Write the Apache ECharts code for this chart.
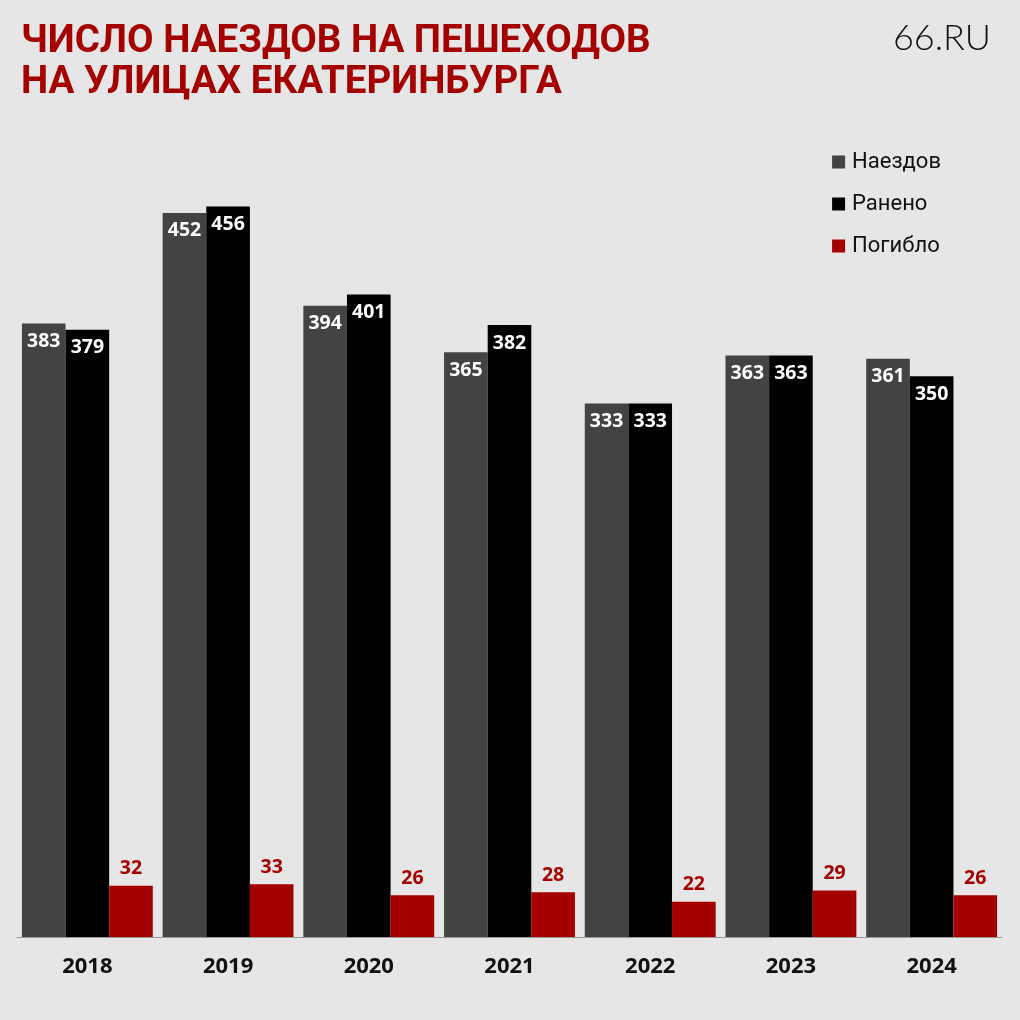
<!DOCTYPE html>
<html><head><meta charset="utf-8">
<style>html,body{margin:0;padding:0;background:#e6e6e6;}#c{width:1020px;height:1020px;}</style>
<script src="https://cdn.jsdelivr.net/npm/echarts@6/dist/echarts.min.js"></script>
</head><body><div id="c"></div>
<script>
const years = ['2018','2019','2020','2021','2022','2023','2024'];
const naezdov = [383, 452, 394, 365, 333, 363, 361];
const raneno = [379, 456, 401, 382, 333, 363, 350];
const pogiblo = [32, 33, 26, 28, 22, 29, 26];
const seriesNames = ['Наездов', 'Ранено', 'Погибло'];
const titleText = 'ЧИСЛО НАЕЗДОВ НА ПЕШЕХОДОВ\nНА УЛИЦАХ ЕКАТЕРИНБУРГА';

const chart = echarts.init(document.getElementById('c'));
const inLabel = {show:true, position:'insideTop', distance:8, color:'#fff', fontFamily:'Open Sans', fontWeight:'bold', fontSize:19.5};
chart.setOption({
  backgroundColor:'#e6e6e6',
  animation:false,
  title:[{text:titleText, left:16, top:17, textStyle:{color:'#a50000', fontFamily:'Roboto', fontWeight:'bold', fontSize:38.5, lineHeight:41}},
         {text:'66.RU', right:24, top:15, textStyle:{color:'#111', fontFamily:'Lato', fontWeight:300, fontSize:36}}],
  legend:{right:74, top:146, orient:'vertical', itemGap:20, itemWidth:13, itemHeight:13, icon:'rect',
    textStyle:{fontFamily:'Roboto', fontSize:22, color:'#111', padding:[0,0,0,2]}},
  grid:{left:17, right:18, top:136, bottom:83},
  xAxis:{type:'category', data:years, axisLine:{lineStyle:{color:'#999'}}, axisTick:{length:7, lineStyle:{color:'#999'}},
    axisLabel:{color:'#111', fontFamily:'Open Sans', fontWeight:'bold', fontSize:22, margin:19}},
  yAxis:{type:'value', min:0, max:500, show:false, splitLine:{show:false}},
  series:[
    {name:seriesNames[0], type:'bar', data:naezdov, itemStyle:{color:'#434343'}, barGap:'0%', barCategoryGap:'7%', label:inLabel},
    {name:seriesNames[1], type:'bar', data:raneno, itemStyle:{color:'#000'}, label:inLabel},
    {name:seriesNames[2], type:'bar', data:pogiblo, itemStyle:{color:'#a50000'},
      label:{show:true, position:'top', distance:7, color:'#a50000', fontFamily:'Open Sans', fontWeight:'bold', fontSize:19.5}}
  ]
});
</script></body></html>
